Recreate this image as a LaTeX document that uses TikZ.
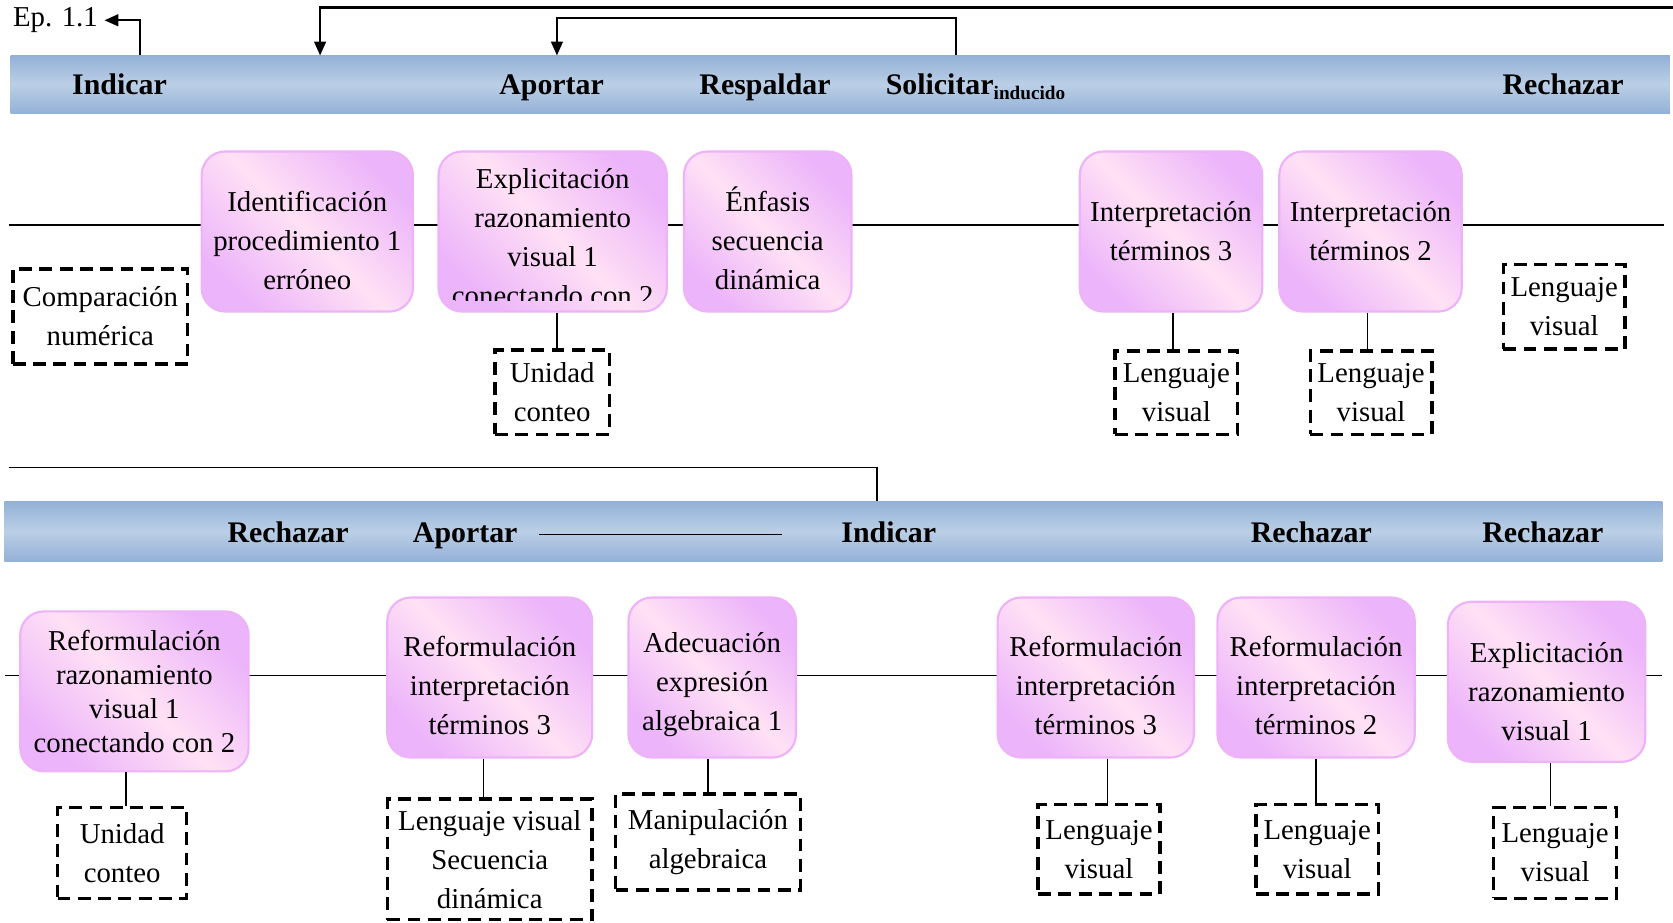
\documentclass[tikz,border=0pt]{standalone}
\usepackage{fontspec}
\setmainfont{Liberation Serif}
\usetikzlibrary{arrows.meta}

\definecolor{bandDark}{HTML}{93B1D7}
\definecolor{bandLight}{HTML}{BBCFE6}
\definecolor{pinkLight}{HTML}{FFE1F5}
\definecolor{pinkDark}{HTML}{ECB4FA}
\definecolor{pinkEdge}{HTML}{EEB2F8}

\newcommand\boxfont{\fontsize{27}{36.5}\selectfont}
\newcommand\bandfont{\fontsize{28}{30}\selectfont\bfseries}
% taller first line: pushes the text block a little below the centre
\newcommand\lowtxt[1][34pt]{\rule{0pt}{#1}}

\tikzset{
  stepbox/.style={draw=pinkEdge, line width=2pt, rounded corners=22pt,
    top color=pinkDark, bottom color=pinkDark, middle color=pinkLight,
    shading angle=-45, align=center, inner sep=0pt,
    minimum height=150pt, font=\boxfont},
  notebox/.style={draw=black, line width=3.2pt, dash pattern=on 12pt off 7pt,
    align=center, inner sep=0pt, font=\boxfont},
  actlabel/.style={font=\bandfont, inner sep=0pt, anchor=base},
  link/.style={line width=1.5pt},
  flow/.style={line width=2pt, -{Triangle[length=13pt,width=11pt]}},
  band/.style={top color=bandDark, bottom color=bandDark, middle color=bandLight},
}

\begin{document}
\begin{tikzpicture}[x=1pt,y=-1pt]
\useasboundingbox (0,0) rectangle (1568,865);

% ---------- episode header ----------
\node[font=\fontsize{27}{30}\selectfont, inner sep=6pt, anchor=west] (ep) at (6,19) {Ep. 1.1};

% ---------- first band ----------
\shade[band] (10,52) rectangle (1565,106);
\node[actlabel] (ind1) at (112,88.5) {Indicar};
\node[actlabel] (apo1) at (517,88.5) {Aportar};
\node[actlabel] (res1) at (717,88.5) {Respaldar};
\node[actlabel, anchor=base west] (sol1) at (830,88.5)
  {Solicitar\raisebox{-5pt}{\fontsize{18}{18}\selectfont inducido}};
\node[actlabel] (rec1) at (1465,88.5) {Rechazar};

% arrows above the first band
\coordinate (ind1-top) at (131,52);
\draw[flow] (ind1-top) |- (ep.east);
\coordinate (top-right) at (1568,7);
\coordinate (gap1-top) at (300,52);
\draw[flow] (top-right) -| (gap1-top);
\coordinate (sol1-top) at (896,52);
\coordinate (apo1-top) at (522,52);
\draw[flow] (sol1-top) -- ++(0,-35) -| (apo1-top);

% ---------- first timeline ----------
\coordinate (t1-start) at (8,211);
\coordinate (t1-end) at (1560,211);
\draw[link] (t1-start) -- (t1-end);

\node[stepbox, minimum width=198pt] (idp) at (288,217)
  {\lowtxt[36pt]Identificación\\procedimiento 1\\erróneo};
\node[stepbox, minimum width=214pt] (erv) at (518,217) {};
\begin{scope}
  \clip[rounded corners=20pt] ([shift={(2,-11)}]erv.south west) rectangle ([shift={(-2,9)}]erv.north east);
  \node[font=\boxfont, align=center, inner sep=0pt] (erv-txt) at (518,222)
    {Explicitación\\razonamiento\\visual 1\\conectando con 2};
\end{scope}
\node[stepbox, minimum width=157pt] (enf) at (719.5,217)
  {\lowtxt[36pt]Énfasis\\secuencia\\dinámica};
\node[stepbox, minimum width=171pt] (it3) at (1097.5,217)
  {Interpretación\\términos 3};
\node[stepbox, minimum width=171pt] (it2) at (1284.5,217)
  {Interpretación\\términos 2};

\node[notebox, minimum width=164pt, minimum height=89pt] (cmp) at (94,296.5)
  {Comparación\\numérica};
\node[notebox, minimum width=107pt, minimum height=79pt] (uc1) at (517.5,367.5)
  {Unidad\\conteo};
\node[notebox, minimum width=115pt, minimum height=78pt] (lv1) at (1102.5,368)
  {Lenguaje\\visual};
\node[notebox, minimum width=114pt, minimum height=78pt] (lv2) at (1285,368)
  {Lenguaje\\visual};
\node[notebox, minimum width=114pt, minimum height=79pt] (lv3) at (1466,287.5)
  {Lenguaje\\visual};

\draw[link] ([xshift=4pt]erv.south) -- ([xshift=4pt]erv.south |- uc1.north);
\draw[link] ([xshift=2pt]it3.south) -- ([xshift=2pt]it3.south |- lv1.north);
\draw[link] ([xshift=-3pt]it2.south) -- ([xshift=-3pt]it2.south |- lv2.north);

% ---------- link between the rows ----------
\coordinate (row-link) at (8,438);
\coordinate (ind2-top) at (822,470);
\draw[link] (row-link) -| (ind2-top);

% ---------- second band ----------
\shade[band] (4,470) rectangle (1558,526);
\node[actlabel] (rec2) at (270,508.5) {Rechazar};
\node[actlabel] (apo2) at (436,508.5) {Aportar};
\node[actlabel] (ind2) at (833,508.5) {Indicar};
\node[actlabel] (rec3) at (1229,508.5) {Rechazar};
\node[actlabel] (rec4) at (1446,508.5) {Rechazar};
\coordinate (apo2-run) at (505,501);
\coordinate (ind2-run) at (733,501);
\draw[link] (apo2-run) -- (ind2-run);

% ---------- second timeline ----------
\coordinate (t2-start) at (5,633);
\coordinate (t2-end) at (1558,633);
\draw[link] (t2-start) -- (t2-end);

\node[stepbox, minimum width=214pt, font=\fontsize{27}{31.7}\selectfont] (rrv) at (126,648)
  {Reformulación\\razonamiento\\visual 1\\conectando con 2};
\node[stepbox, minimum width=192pt] (rit3) at (459,635)
  {\lowtxt Reformulación\\interpretación\\términos 3};
\node[stepbox, minimum width=157pt] (aea) at (667.5,635)
  {\lowtxt[32pt]Adecuación\\expresión\\algebraica 1};
\node[stepbox, minimum width=184pt] (rit3b) at (1027,635)
  {\lowtxt Reformulación\\interpretación\\términos 3};
\node[stepbox, minimum width=185pt] (rit2) at (1233.5,635)
  {\lowtxt Reformulación\\interpretación\\términos 2};
\node[stepbox, minimum width=185pt] (erv2) at (1449.5,639)
  {\lowtxt[37pt]Explicitación\\razonamiento\\visual 1};

\node[notebox, minimum width=121pt, minimum height=85pt] (uc2) at (114.5,799.5)
  {Unidad\\conteo};
\node[notebox, minimum width=192pt, minimum height=113pt] (lvs) at (459,805.5)
  {Lenguaje visual\\Secuencia\\dinámica};
\node[notebox, minimum width=173pt, minimum height=90pt] (man) at (663.5,789)
  {Manipulación\\algebraica};
\node[notebox, minimum width=114pt, minimum height=84pt] (lv4) at (1030,796)
  {Lenguaje\\visual};
\node[notebox, minimum width=115pt, minimum height=84pt] (lv5) at (1234.5,796)
  {Lenguaje\\visual};
\node[notebox, minimum width=115pt, minimum height=85pt] (lv6) at (1457.5,799.5)
  {Lenguaje\\visual};

\draw[link] ([xshift=3.5pt]uc2.north) -- ([xshift=3.5pt]uc2.north |- rrv.south);
\draw[link] ([xshift=-6pt]rit3.south) -- ([xshift=-6pt]rit3.south |- lvs.north);
\draw[link] (man.north) -- (man.north |- aea.south);
\draw[link] ([xshift=11pt]rit3b.south) -- ([xshift=11pt]rit3b.south |- lv4.north);
\draw[link] (rit2.south) -- (rit2.south |- lv5.north);
\draw[link] ([xshift=-4.5pt]lv6.north) -- ([xshift=-4.5pt]lv6.north |- erv2.south);
\end{tikzpicture}
\end{document}
